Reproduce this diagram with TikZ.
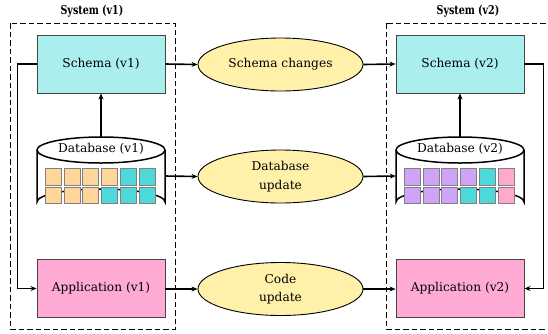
\documentclass[tikz,border=0pt]{standalone}
\usepackage{fontspec}
\setmainfont{DejaVu Serif}
\usetikzlibrary{arrows.meta,shapes.geometric}
\definecolor{schemafill}{HTML}{AAEEEE}
\definecolor{appfill}{HTML}{FFAAD4}
\definecolor{procfill}{HTML}{FFF0AA}
\definecolor{sqorange}{HTML}{FFD699}
\definecolor{sqcyan}{HTML}{4DD9D9}
\definecolor{sqpurple}{HTML}{CFA3F5}
\definecolor{sqpink}{HTML}{FFAACC}
\definecolor{edgegray}{HTML}{444444}
\newcommand{\mainsize}{\fontsize{12.2}{18.5}\selectfont}
\tikzset{
  box/.style={draw=edgegray, line width=0.9pt, minimum width=128pt, minimum height=58pt, inner sep=0pt, font=\mainsize},
  proc/.style={ellipse, draw=black, line width=0.9pt, fill=procfill, minimum width=165pt, minimum height=53pt, inner sep=0pt, align=center, font=\mainsize},
  conn/.style={line width=1.6pt, -{Stealth[length=6pt,width=5pt]}},
  sysbox/.style={draw=black, line width=0.9pt, dash pattern=on 5.5pt off 3pt},
  systitle/.style={font=\bfseries\fontsize{12.2}{14}\selectfont},
  dbholder/.style={minimum width=128pt, minimum height=78pt, inner sep=0pt},
  sq/.style={draw=gray, line width=0.6pt},
}
\newcommand{\cyl}[2]{% center x, label
  \draw[line width=1.5pt, fill=white] (#1-64,150) -- (#1-64,202) arc[start angle=180, end angle=360, x radius=64, y radius=13] -- (#1+64,150);
  \draw[line width=1.5pt, fill=white] (#1,150) ellipse[x radius=64, y radius=13];
  \node[font=\mainsize] at (#1,148.5) {#2};
}
\begin{document}
\begin{tikzpicture}[x=1pt,y=-1pt]
\useasboundingbox (0,0) rectangle (548,333);
% system boxes
\draw[sysbox] (10,23) rectangle (175,329);
\draw[sysbox] (386,23) rectangle (555,329);
\node[systitle] (t1) at (92,11.5) {\scalebox{0.78}[1]{System (v1)}};
\node[systitle] (t2) at (468,11.5) {\scalebox{0.78}[1]{System (v2)}};
% nodes
\node[box, fill=schemafill] (s1) at (101,64) {Schema (v1)};
\node[box, fill=schemafill] (s2) at (460,64) {Schema (v2)};
\node[box, fill=appfill] (a1) at (101,288.5) {Application (v1)};
\node[box, fill=appfill] (a2) at (460,288.5) {Application (v2)};
\node[dbholder] (d1) at (101,176) {};
\node[dbholder] (d2) at (460,176) {};
\cyl{101}{Database (v1)}
\cyl{460}{Database (v2)}
% squares v1
\foreach \c [count=\i from 0] in {sqorange,sqorange,sqorange,sqorange,sqcyan,sqcyan}
  \filldraw[sq, fill=\c] (45+18.8*\i,168.3) rectangle ++(16,16.5);
\foreach \c [count=\i from 0] in {sqorange,sqorange,sqorange,sqcyan,sqcyan,sqcyan}
  \filldraw[sq, fill=\c] (45+18.8*\i,186.8) rectangle ++(16,16.5);
% squares v2
\foreach \c [count=\i from 0] in {sqpurple,sqpurple,sqpurple,sqpurple,sqcyan,sqpink}
  \filldraw[sq, fill=\c] (404+18.8*\i,168.3) rectangle ++(16,16.5);
\foreach \c [count=\i from 0] in {sqpurple,sqpurple,sqpurple,sqcyan,sqcyan,sqpink}
  \filldraw[sq, fill=\c] (404+18.8*\i,186.8) rectangle ++(16,16.5);
% process ellipses
\node[proc] (p1) at (280.5,64.5) {Schema changes};
\node[proc] (p2) at (280.5,176.5) {Database\\update};
\node[proc] (p3) at (280.5,289) {Code\\update};
% connectors
\draw[conn] (d1.north) -- (s1.south);
\draw[conn] (d2.north) -- (s2.south);
\draw[conn] (s1.east) -- (p1.west);
\draw[conn] (p1.east) -- (s2.west);
\draw[conn] (d1.east) -- (p2.west);
\draw[conn] (p2.east) -- (d2.west);
\draw[conn] (a1.east |- p3.west) -- (p3.west);
\draw[conn] (p3.east) -- (a2.west |- p3.east);
\draw[conn] (s1.west) -- ++(-19,0) |- (a1.west);
\draw[conn] (s2.east) -- ++(19,0) |- (a2.east);
\end{tikzpicture}
\end{document}
